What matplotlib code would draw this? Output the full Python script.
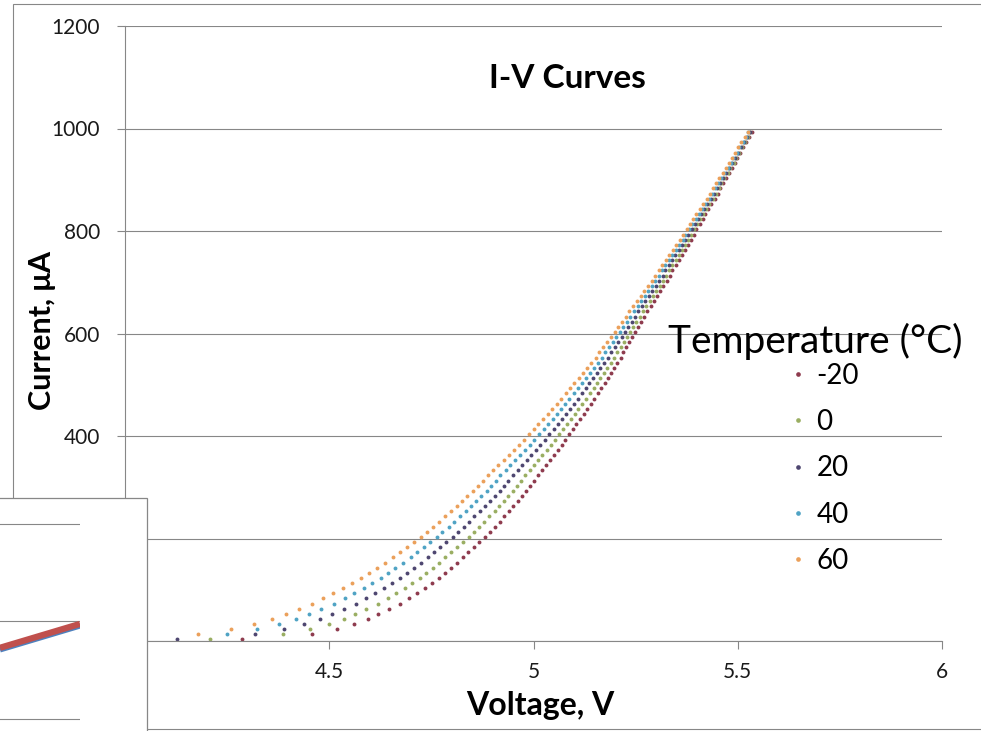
import matplotlib
matplotlib.use("Agg")
import matplotlib.pyplot as plt
from matplotlib.patches import Rectangle

plt.rcParams['font.family'] = ['Lato', 'DejaVu Sans']

# forward current sweep, uA
current = [3, 13, 23, 33, 43, 53, 63, 73, 83, 93,
           103, 113, 123, 133, 143, 153, 163, 173, 183, 193,
           203, 213, 223, 233, 243, 253, 263, 273, 283, 293,
           303, 313, 323, 333, 343, 353, 363, 373, 383, 393,
           403, 413, 423, 433, 443, 453, 463, 473, 483, 493,
           503, 513, 523, 533, 543, 553, 563, 573, 583, 593,
           603, 613, 623, 633, 643, 653, 663, 673, 683, 693,
           703, 713, 723, 733, 743, 753, 763, 773, 783, 793,
           803, 813, 823, 833, 843, 853, 863, 873, 883, 893,
           903, 913, 923, 933, 943, 953, 963, 973, 983, 993]

# measured voltage, V, one list per temperature
v_m20 = [4.286, 4.458, 4.519, 4.561, 4.595, 4.619, 4.646, 4.674, 4.695, 4.715,
         4.735, 4.752, 4.769, 4.783, 4.798, 4.812, 4.827, 4.839, 4.854, 4.867,
         4.882, 4.893, 4.905, 4.917, 4.928, 4.940, 4.951, 4.961, 4.971, 4.982,
         4.991, 5.000, 5.011, 5.020, 5.030, 5.040, 5.050, 5.059, 5.069, 5.078,
         5.087, 5.097, 5.105, 5.114, 5.123, 5.132, 5.140, 5.149, 5.157, 5.166,
         5.174, 5.182, 5.189, 5.197, 5.205, 5.213, 5.220, 5.227, 5.234, 5.242,
         5.248, 5.256, 5.263, 5.271, 5.279, 5.287, 5.295, 5.302, 5.310, 5.318,
         5.326, 5.334, 5.340, 5.348, 5.356, 5.363, 5.371, 5.377, 5.385, 5.392,
         5.399, 5.407, 5.414, 5.421, 5.428, 5.435, 5.444, 5.451, 5.457, 5.464,
         5.471, 5.479, 5.486, 5.493, 5.499, 5.506, 5.513, 5.520, 5.527, 5.534]
v_0 = [4.207, 4.388, 4.454, 4.500, 4.536, 4.563, 4.591, 4.620, 4.643, 4.663,
       4.685, 4.703, 4.721, 4.737, 4.753, 4.768, 4.784, 4.798, 4.813, 4.827,
       4.843, 4.854, 4.867, 4.880, 4.892, 4.905, 4.916, 4.927, 4.938, 4.950,
       4.959, 4.969, 4.980, 4.991, 5.001, 5.012, 5.022, 5.032, 5.043, 5.053,
       5.063, 5.073, 5.082, 5.092, 5.101, 5.110, 5.119, 5.129, 5.138, 5.147,
       5.155, 5.164, 5.172, 5.181, 5.189, 5.198, 5.205, 5.213, 5.221, 5.229,
       5.236, 5.244, 5.252, 5.260, 5.268, 5.276, 5.284, 5.292, 5.300, 5.309,
       5.317, 5.325, 5.332, 5.340, 5.348, 5.355, 5.363, 5.370, 5.378, 5.385,
       5.393, 5.401, 5.408, 5.416, 5.423, 5.430, 5.439, 5.446, 5.453, 5.460,
       5.467, 5.475, 5.482, 5.490, 5.496, 5.503, 5.510, 5.517, 5.525, 5.531]
v_20 = [4.127, 4.319, 4.389, 4.438, 4.478, 4.507, 4.536, 4.566, 4.590, 4.612,
        4.634, 4.654, 4.673, 4.690, 4.708, 4.724, 4.742, 4.756, 4.772, 4.787,
        4.803, 4.816, 4.829, 4.843, 4.855, 4.869, 4.882, 4.893, 4.905, 4.917,
        4.928, 4.938, 4.950, 4.961, 4.972, 4.983, 4.995, 5.005, 5.017, 5.027,
        5.038, 5.049, 5.059, 5.069, 5.079, 5.089, 5.099, 5.108, 5.118, 5.128,
        5.137, 5.146, 5.155, 5.164, 5.173, 5.183, 5.190, 5.199, 5.207, 5.216,
        5.223, 5.232, 5.240, 5.249, 5.257, 5.265, 5.274, 5.282, 5.291, 5.299,
        5.307, 5.316, 5.323, 5.332, 5.340, 5.347, 5.356, 5.363, 5.371, 5.379,
        5.387, 5.395, 5.402, 5.410, 5.418, 5.425, 5.434, 5.441, 5.448, 5.456,
        5.463, 5.471, 5.478, 5.486, 5.493, 5.500, 5.507, 5.515, 5.522, 5.529]
v_40 = [4.048, 4.249, 4.324, 4.377, 4.419, 4.450, 4.481, 4.512, 4.538, 4.560,
        4.584, 4.605, 4.626, 4.644, 4.662, 4.680, 4.699, 4.715, 4.731, 4.747,
        4.764, 4.777, 4.792, 4.806, 4.819, 4.834, 4.847, 4.859, 4.871, 4.885,
        4.896, 4.907, 4.919, 4.932, 4.943, 4.955, 4.967, 4.979, 4.991, 5.002,
        5.014, 5.025, 5.035, 5.047, 5.057, 5.067, 5.078, 5.088, 5.099, 5.109,
        5.118, 5.129, 5.138, 5.148, 5.157, 5.167, 5.176, 5.185, 5.194, 5.203,
        5.211, 5.220, 5.229, 5.237, 5.246, 5.255, 5.263, 5.272, 5.281, 5.290,
        5.298, 5.307, 5.315, 5.323, 5.332, 5.340, 5.348, 5.356, 5.365, 5.372,
        5.381, 5.389, 5.397, 5.405, 5.412, 5.420, 5.429, 5.437, 5.444, 5.451,
        5.459, 5.467, 5.475, 5.483, 5.489, 5.497, 5.504, 5.512, 5.520, 5.526]
v_60 = [3.968, 4.179, 4.259, 4.316, 4.360, 4.394, 4.426, 4.458, 4.485, 4.509,
        4.534, 4.556, 4.578, 4.597, 4.617, 4.636, 4.656, 4.673, 4.690, 4.707,
        4.725, 4.739, 4.754, 4.769, 4.783, 4.798, 4.812, 4.825, 4.838, 4.852,
        4.864, 4.876, 4.889, 4.902, 4.914, 4.927, 4.940, 4.952, 4.965, 4.977,
        4.989, 5.001, 5.012, 5.024, 5.035, 5.046, 5.057, 5.068, 5.079, 5.090,
        5.100, 5.111, 5.121, 5.131, 5.141, 5.152, 5.161, 5.171, 5.180, 5.190,
        5.199, 5.208, 5.217, 5.226, 5.235, 5.244, 5.253, 5.262, 5.271, 5.280,
        5.289, 5.298, 5.306, 5.315, 5.324, 5.332, 5.341, 5.349, 5.358, 5.366,
        5.375, 5.383, 5.391, 5.399, 5.407, 5.415, 5.424, 5.432, 5.439, 5.447,
        5.455, 5.463, 5.471, 5.479, 5.486, 5.494, 5.501, 5.509, 5.517, 5.524]

temps = ['-20', '0', '20', '40', '60']
colors = ['#8e3b4e', '#9aae62', '#4e4670', '#4fa3c4', '#eba05a']

x_ticks = [4, 4.5, 5, 5.5, 6]
x_tick_labels = ['4', '4.5', '5', '5.5', '6']
y_ticks = [0, 200, 400, 600, 800, 1000, 1200]

# piece of the neighbouring chart that overlaps the lower-left corner
inset_x = [0, 1]
inset_red = [0.73, 0.975]
inset_blue = [0.71, 0.955]
inset_grid = [0, 1, 2]

W, H = 981, 731
GRID = '#878787'


def px_box(x0, y0, x1, y1):
    """pixel box (top-left origin) -> figure fraction rect"""
    return [x0 / W, 1 - y1 / H, (x1 - x0) / W, (y1 - y0) / H]


fig = plt.figure(figsize=(W / 100, H / 100), dpi=100)

# chart area border
fig.patches.append(Rectangle((13 / W, 1 - 729 / H), 1.0, 725 / H,
                             transform=fig.transFigure, fill=False,
                             edgecolor=GRID, lw=0.8, zorder=-1))

ax = fig.add_axes(px_box(125, 26, 942, 641))
for v, lab, c in zip([v_m20, v_0, v_20, v_40, v_60], temps, colors):
    ax.plot(v, current, ls='none', marker='o', ms=2.8, mew=0, color=c, label=lab)

ax.set_xlim(4, 6)
ax.set_ylim(0, 1200)
ax.set_xticks(x_ticks)
ax.set_xticklabels(x_tick_labels)
ax.set_yticks(y_ticks)
ax.grid(axis='y', color=GRID, lw=0.8)
ax.set_axisbelow(True)
for s in ['top', 'right']:
    ax.spines[s].set_visible(False)
for s in ['left', 'bottom']:
    ax.spines[s].set_color(GRID)
    ax.spines[s].set_linewidth(0.8)
ax.tick_params(axis='both', length=6, width=0.8, color=GRID,
               labelsize=15, labelcolor='#1a1a1a')
ax.tick_params(axis='y', pad=12)
ax.tick_params(axis='x', pad=9)

fig.text(567 / W, 1 - 78 / H, 'I-V Curves', ha='center', va='center',
         fontsize=24, fontweight='bold')
fig.text(540 / W, 1 - 705 / H, 'Voltage, V', ha='center', va='center',
         fontsize=23, fontweight='bold')
fig.text(42 / W, 1 - 330 / H, 'Current, μA', ha='center', va='center',
         rotation=90, fontsize=22, fontweight='bold')

# legend: heading as plain text, entries from the plotted series
fig.text(668 / W, 1 - 353 / H, 'Temperature (°C)', ha='left', va='baseline',
         fontsize=28)
ax.legend(frameon=False, fontsize=20, loc='upper left',
          bbox_to_anchor=(779 / W, 1 - 349 / H),
          bbox_transform=fig.transFigure, handlelength=0.4,
          handletextpad=0.45, labelspacing=0.73, borderpad=0,
          markerscale=1.2)

# overlapping chart: white box with its own gridlines and a thick line
fig.patches.append(Rectangle((-0.01, -0.01), 146.5 / W + 0.01, 1 - 498 / H + 0.01,
                             transform=fig.transFigure, facecolor='white',
                             edgecolor=GRID, lw=0.9, zorder=1))
ax2 = fig.add_axes(px_box(0, 519, 80, 731), zorder=3)
ax2.patch.set_visible(False)
ax2.plot(inset_x, inset_blue, color='#4f81bd', lw=4, solid_capstyle='butt')
ax2.plot(inset_x, inset_red, color='#c0504d', lw=4.5, solid_capstyle='butt')
ax2.set_xlim(0, 1)
ax2.set_ylim(-0.123, 2.05)
ax2.set_yticks(inset_grid)
ax2.grid(axis='y', color=GRID, lw=0.8)
ax2.set_axisbelow(True)
ax2.tick_params(length=0, labelleft=False, labelbottom=False)
for s in ax2.spines.values():
    s.set_visible(False)

fig.savefig('out.png', dpi=100)
